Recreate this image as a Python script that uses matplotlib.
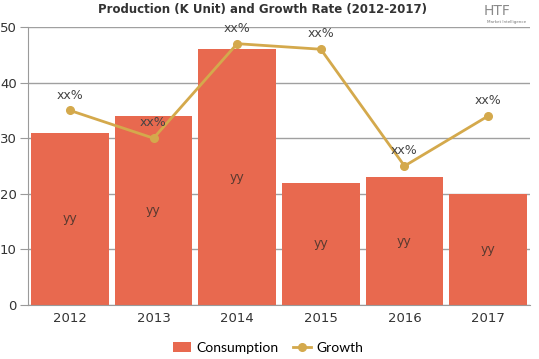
import matplotlib
matplotlib.use("Agg")
import matplotlib.pyplot as plt
import numpy as np
from matplotlib import font_manager

years = ["2012", "2013", "2014", "2015", "2016", "2017"]
consumption = [31, 34, 46, 22, 23, 20]
growth = [35, 30, 47, 46, 25, 34]
bar_labels = ["yy"] * 6
growth_labels = ["xx%"] * 6

bar_color = "#E8694F"
line_color = "#D4A94C"

names = {f.name for f in font_manager.fontManager.ttflist}
narrow = "Liberation Sans Narrow" in names
title_family = "Liberation Sans Narrow" if narrow else "DejaVu Sans"
title_size = 10.5 if narrow else 8.5

fig = plt.figure(figsize=(5.39, 3.59), dpi=100)
ax = fig.add_axes([28/539, 1-305/359, (530-28)/539, (305-27)/359])

x = np.arange(len(years))
ax.set_axisbelow(True)
ax.yaxis.grid(True, color="#a0a0a0", linewidth=1)
bars = ax.bar(x, consumption, width=0.93, color=bar_color, label="Consumption", zorder=2)
line, = ax.plot(x, growth, color=line_color, linewidth=2, marker="o", markersize=5.5, label="Growth", zorder=3)

for xi, v, t in zip(x, consumption, bar_labels):
    ax.text(xi, v/2, t, ha="center", va="center", fontsize=9, color="#5a3a30", zorder=4)
for xi, v, t in zip(x, growth, growth_labels):
    ax.text(xi, v + 1.6, t, ha="center", va="bottom", fontsize=9, color="#444444", zorder=4)

ax.set_xlim(-0.5, len(years) - 0.5)
ax.set_ylim(0, 50)
ax.set_yticks([0, 10, 20, 30, 40, 50])
ax.set_xticks(x)
ax.set_xticklabels(years)
for s in ["top", "right"]:
    ax.spines[s].set_visible(False)
ax.spines["left"].set_color("#9a9a9a")
ax.spines["bottom"].set_color("#9a9a9a")
ax.tick_params(axis="y", length=6, color="#9a9a9a", labelsize=9.5, labelcolor="#333333", pad=2)
ax.tick_params(axis="x", length=0, labelsize=9.5, labelcolor="#333333", pad=5)

fig.text(263/539, 1-10/359, "Production (K Unit) and Growth Rate (2012-2017)", ha="center", va="center",
         fontsize=title_size, fontweight="heavy", color="#333333", family=title_family)
fig.text(497/539, 1-11/359, "HTF", ha="center", va="center", fontsize=10, color="#8a8a8a")
fig.text(507/539, 1-22/359, "Market Intelligence", ha="center", va="center", fontsize=3, color="#777777")

leg = fig.legend(handles=[bars, line], labels=["Consumption", "Growth"], loc="center",
                 bbox_to_anchor=(268/539, 1-348/359), ncol=2, frameon=False,
                 handlelength=1.3, handletextpad=0.4, columnspacing=1.0,
                 prop={"family": "Lato", "size": 10})
fig.savefig("out.png", dpi=100)
